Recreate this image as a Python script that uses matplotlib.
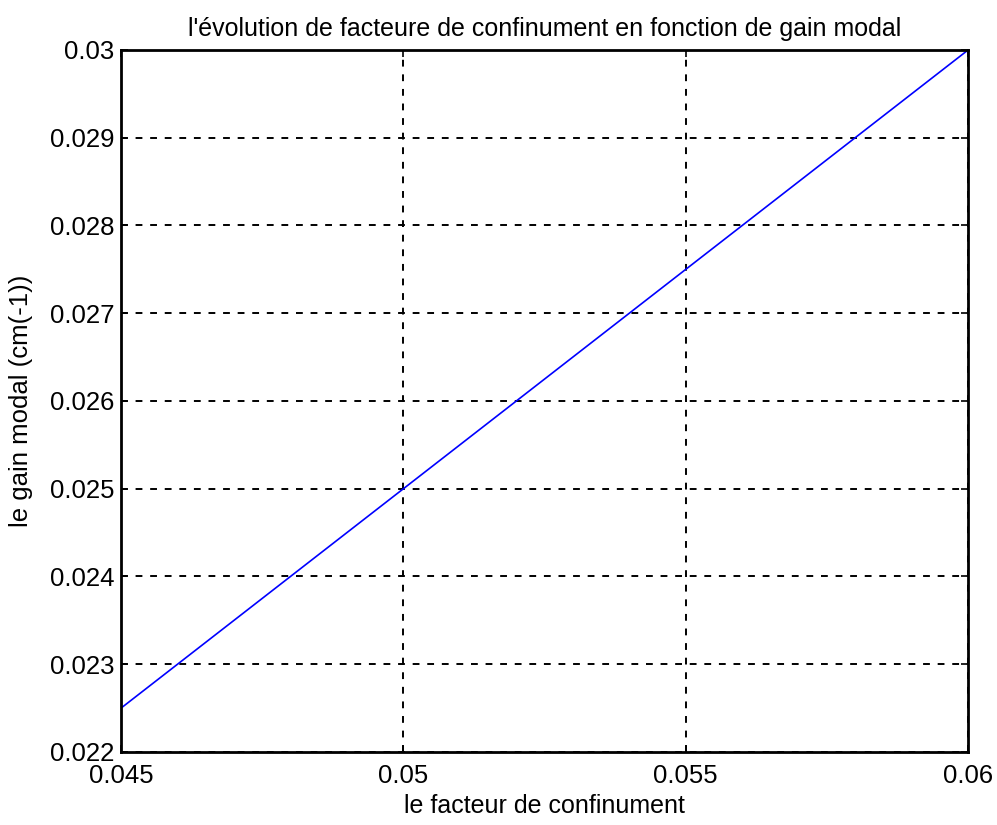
import numpy as np
import matplotlib.pyplot as plt

plt.rcParams['font.family'] = ['Liberation Sans', 'DejaVu Sans']

# data
facteur = [0.045, 0.05, 0.055, 0.06]
gain = [0.0225, 0.025, 0.0275, 0.03]

xticks = [0.045, 0.05, 0.055, 0.06]
xtick_labels = ['0.045', '0.05', '0.055', '0.06']
yticks = [0.022, 0.023, 0.024, 0.025, 0.026, 0.027, 0.028, 0.029, 0.03]
ytick_labels = ['0.022', '0.023', '0.024', '0.025', '0.026', '0.027', '0.028', '0.029', '0.03']

fig = plt.figure(figsize=(9.97, 8.25), dpi=100)
ax = fig.add_axes([0.1214, 0.0885, 0.8496, 0.8509])

ax.plot(facteur, gain, color='#0000ff', linewidth=1.2)

ax.set_xlim(0.045, 0.06)
ax.set_ylim(0.022, 0.03)
ax.set_xticks(xticks)
ax.set_xticklabels(xtick_labels)
ax.set_yticks(yticks)
ax.set_yticklabels(ytick_labels)

# matlab style dashed grid
ax.grid(True, color='black', linestyle=(0, (3.5, 4)), linewidth=1.4)
ax.tick_params(direction='in', length=5, width=1.2, top=True, right=True, labelsize=18.5)
ax.tick_params(axis='x', pad=9)
ax.tick_params(axis='y', pad=5)
for s in ax.spines.values():
    s.set_linewidth(2)

ax.set_title("l'évolution de facteure de confinument en fonction de gain modal", fontsize=18, pad=10)
ax.set_xlabel('le facteur de confinument', fontsize=18, labelpad=4)
ax.set_ylabel('le gain modal (cm(-1))', fontsize=18.5, labelpad=12)

fig.savefig('out.png', dpi=100)
